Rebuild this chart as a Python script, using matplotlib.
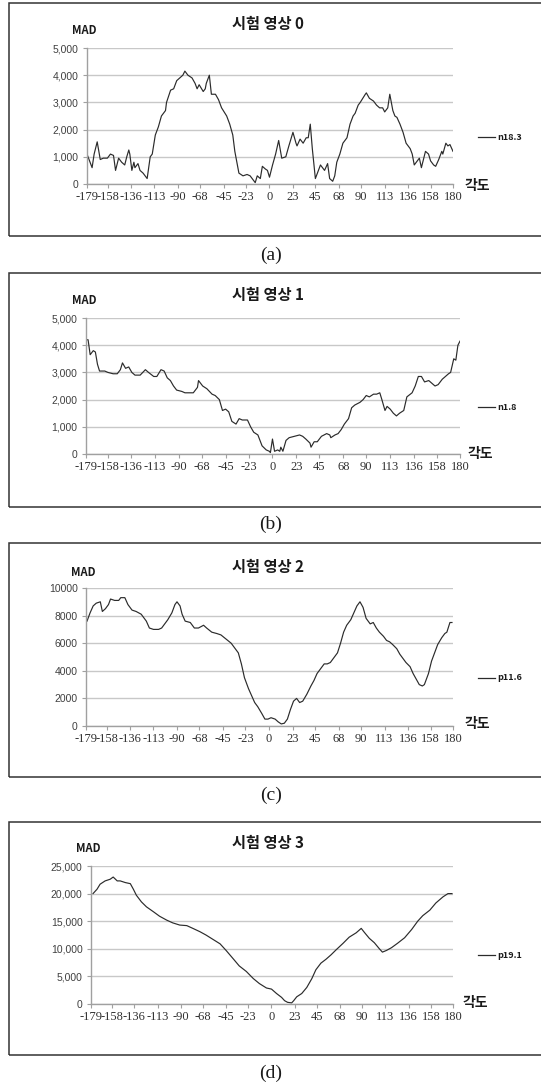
import matplotlib
matplotlib.use("Agg")
import matplotlib.pyplot as plt
from matplotlib.patches import Rectangle
from matplotlib.lines import Line2D

# ---- data -----------------------------------------------------------------
tick_angles = [-179, -158, -136, -113, -90, -68, -45, -23, 0, 23, 45, 68, 90,
               113, 136, 158, 180]

titles = ["시험 영상 0", "시험 영상 1", "시험 영상 2", "시험 영상 3"]
series_names = ["n18.3", "n1.8", "p11.6", "p19.1"]
captions = ["(a)", "(b)", "(c)", "(d)"]

angle_0 = [-179, -174, -172, -169, -166, -163, -159, -156, -153, -151, -148, -145,
           -142, -140, -138, -137, -135, -133, -132, -129, -127, -124, -122, -120,
           -117, -115, -112, -109, -106, -102, -101, -97, -94, -91, -88, -85, -83,
           -80, -76, -73, -71, -69, -65, -63, -62, -59, -57, -53, -50, -47, -42,
           -39, -36, -34, -32, -30, -26, -22, -19, -17, -14, -12, -9, -7, -4, -2,
           0, 3, 6, 9, 12, 16, 19, 23, 26, 27, 30, 33, 36, 38, 40, 42, 45, 46, 50,
           52, 54, 57, 59, 62, 64, 66, 69, 72, 76, 79, 82, 84, 87, 89, 94, 95, 98,
           102, 105, 108, 111, 113, 116, 118, 121, 123, 125, 128, 131, 134, 138,
           140, 142, 144, 147, 149, 151, 153, 156, 158, 161, 163, 166, 169, 170,
           173, 175, 177, 180]
mad_0 = [1100, 600, 1100, 1550, 900, 950, 950, 1100, 1050, 500, 950, 800,
         700, 1000, 1250, 1100, 500, 800, 600, 750, 500, 400, 300, 200,
         1000, 1100, 1800, 2100, 2500, 2700, 3000, 3450, 3500, 3800, 3900, 4000, 4150,
         4000, 3900, 3700, 3500, 3650, 3400, 3500, 3700, 4000, 3300, 3300, 3100, 2800, 2500,
         2200, 1800, 1200, 800, 400, 300, 350, 300, 200, 50, 300, 200, 650, 550, 500,
         250, 700, 1100, 1600, 950, 1000, 1400, 1900, 1500, 1400, 1650, 1500, 1700, 1700, 2200, 1300, 200, 300, 700,
         600, 500, 750, 200, 100, 300, 800, 1100, 1500, 1700, 2200, 2500, 2600, 2900, 3000, 3300, 3350, 3150,
         3050, 2900, 2800, 2800, 2650, 2800, 3300, 2700, 2500, 2450, 2200, 1900, 1500, 1300,
         1100, 700, 800, 950, 600, 900, 1200, 1100, 850, 700, 650, 900, 1200, 1100,
         1500, 1400, 1450, 1200]

angle_1 = [-179, -177, -175, -172, -170, -168, -166, -161, -158, -153, -149, -146,
           -144, -141, -138, -135, -132, -127, -122, -119, -114, -111, -107, -104,
           -101, -98, -95, -92, -87, -84, -80, -76, -72, -71, -67, -63, -58, -55,
           -51, -48, -45, -42, -39, -35, -32, -29, -24, -21, -18, -14, -12, -10,
           -6, -3, -2, 0, 2, 5, 7, 8, 10, 13, 16, 21, 26, 29, 32, 36, 37, 40, 43,
           47, 52, 55, 56, 60, 63, 66, 69, 73, 76, 79, 84, 87, 90, 93, 97, 100,
           103, 105, 108, 110, 113, 116, 119, 122, 126, 129, 134, 137, 140, 143,
           146, 150, 153, 156, 159, 163, 166, 169, 171, 174, 176, 178, 180]
mad_1 = [4200, 4200, 3650, 3800, 3750, 3300, 3050, 3050, 3000, 2950, 2950, 3100,
         3350, 3150, 3200, 3000, 2900, 2900, 3100, 3000, 2850, 2850, 3100, 3050,
         2800, 2700, 2500, 2350, 2300, 2250, 2250, 2250, 2450, 2700, 2500, 2400, 2200, 2150,
         2000, 1600, 1650, 1550, 1200, 1100, 1300, 1250, 1250, 1000, 800, 700, 500, 300,
         150, 100, 50, 550, 100, 150, 100, 250, 100, 500, 600, 650, 700, 650, 550, 400, 250, 450, 450,
         650, 750, 700, 600, 700, 750, 900, 1100, 1300, 1700, 1800, 1900, 2000, 2150, 2100, 2200, 2200,
         2250, 2000, 1600, 1750, 1650, 1500, 1400, 1500, 1600, 2100, 2250, 2500, 2850, 2850,
         2650, 2700, 2600, 2500, 2550, 2750, 2850, 2950, 3000, 3500, 3450, 4000, 4150]

angle_2 = [-178, -175, -172, -169, -165, -163, -160, -157, -155, -151, -147, -145,
           -141, -138, -134, -130, -125, -120, -117, -113, -108, -105, -102, -99,
           -95, -92, -90, -87, -85, -82, -77, -73, -69, -64, -61, -56, -51, -47,
           -42, -37, -33, -30, -27, -24, -20, -17, -14, -11, -7, -4, -1, 2, 6, 9,
           12, 15, 18, 21, 24, 27, 30, 33, 37, 41, 44, 47, 50, 54, 57, 60, 63, 67,
           70, 73, 76, 80, 83, 86, 89, 92, 95, 99, 102, 105, 108, 112, 115, 118,
           121, 125, 128, 131, 134, 138, 141, 144, 147, 150, 152, 156, 159, 162,
           165, 169, 172, 174, 177, 179]
mad_2 = [7600, 8200, 8700, 8900, 9000, 8300, 8500, 8800, 9200, 9100, 9100, 9300,
         9300, 8800, 8400, 8300, 8100, 7600, 7100, 7000, 7000, 7100, 7400, 7700,
         8200, 8800, 9000, 8700, 8100, 7600, 7500, 7100, 7100, 7300, 7100, 6800, 6700, 6600,
         6300, 6000, 5600, 5300, 4500, 3500, 2700, 2200, 1700, 1400, 900, 500, 500, 600, 500, 300,
         150, 200, 500, 1200, 1800, 2000, 1700, 1800, 2300, 2900, 3300, 3800, 4100, 4500, 4500, 4600, 4900, 5300,
         6000, 6800, 7300, 7700, 8200, 8700, 9000, 8600, 7800, 7400, 7500, 7100, 6800, 6500, 6200, 6100,
         5900, 5600, 5200, 4900, 4600, 4300, 3800, 3400, 3000, 2900, 3000, 3800, 4700, 5300,
         5900, 6400, 6700, 6800, 7500, 7500]

angle_3 = [-177, -173, -170, -165, -160, -157, -153, -150, -145, -140, -137, -134,
           -129, -124, -117, -111, -104, -98, -91, -84, -78, -71, -65, -58, -51,
           -45, -38, -32, -25, -18, -12, -5, 0, 5, 10, 13, 16, 20, 22, 25, 30, 35,
           40, 44, 49, 54, 59, 64, 71, 77, 84, 89, 92, 97, 102, 107, 110, 114, 119,
           125, 132, 139, 145, 150, 157, 163, 170, 175, 179]
mad_3 = [20000, 20800, 21700, 22300, 22600, 23000, 22300, 22300, 22000, 21800, 20800, 19700,
         18500, 17600, 16700, 15900, 15200, 14700, 14300, 14200, 13700, 13100, 12500, 11700, 10900,
         9700, 8200, 6900, 5900, 4600, 3700, 2900, 2700, 1900, 1200, 600, 300, 200, 600, 1300, 1900, 3000,
         4600, 6200, 7400, 8100, 8900, 9800, 11000, 12100, 12900, 13700, 13000, 11900, 11100, 10000, 9400, 9700, 10200,
         11000, 12000, 13500, 15000, 16000, 17000, 18300, 19400, 20000, 20000]

angles = [angle_0, angle_1, angle_2, angle_3]
mads = [mad_0, mad_1, mad_2, mad_3]
y_ticks = [[0, 1000, 2000, 3000, 4000, 5000],
           [0, 1000, 2000, 3000, 4000, 5000],
           [0, 2000, 4000, 6000, 8000, 10000],
           [0, 5000, 10000, 15000, 20000, 25000]]
y_comma = [True, True, False, True]

# ---- layout (pixel geometry) ------------------------------------------------
W, H = 541, 1086
fig = plt.figure(figsize=(W / 100, H / 100), dpi=100)
fig.patch.set_facecolor("white")

def fx(x):
    return x / W

def fy(y):
    return 1 - y / H

KR = ["Noto Sans CJK KR", "DejaVu Sans"]
SERIF = ["Liberation Serif", "DejaVu Serif"]
NARROW = ["Liberation Sans Narrow", "Liberation Sans", "DejaVu Sans"]

panels = [
    dict(box=(3, 236), ax=(87, 453, 48, 184), title=24, mad=(84, 31), deg=(477, 186), leg=137, cap=255),
    dict(box=(273, 507), ax=(86, 460, 318, 454), title=295, mad=(84, 301), deg=(480, 454), leg=407, cap=524),
    dict(box=(543, 777), ax=(86, 453, 588, 726), title=567, mad=(83, 572), deg=(477, 724), leg=678, cap=795),
    dict(box=(822, 1055), ax=(91, 453, 866, 1004), title=843, mad=(88, 848), deg=(475, 1003), leg=955, cap=1073),
]

for i, p in enumerate(panels):
    # chart frame
    btop, bbot = p["box"]
    fig.add_artist(Rectangle((fx(9), fy(bbot)), fx(560) - fx(9), fy(btop) - fy(bbot),
                             transform=fig.transFigure, fill=False,
                             edgecolor="#333333", linewidth=1.1))

    l, r, t, b = p["ax"]
    ax = fig.add_axes([fx(l), fy(b), fx(r) - fx(l), fy(t) - fy(b)])
    ax.plot(angles[i], mads[i], color="#2b2b2b", linewidth=0.85)
    ax.set_xlim(-179, 180)
    ax.set_ylim(0, y_ticks[i][-1])

    ax.set_yticks(y_ticks[i])
    if y_comma[i]:
        ax.set_yticklabels([f"{v:,}" for v in y_ticks[i]])
    else:
        ax.set_yticklabels([str(v) for v in y_ticks[i]])
    ax.set_xticks(tick_angles)
    ax.set_xticklabels([str(v) for v in tick_angles])

    ax.grid(axis="y", color="#c8c8c8", linewidth=1.0)
    ax.set_axisbelow(True)
    for s in ("top", "right"):
        ax.spines[s].set_visible(False)
    for s in ("left", "bottom"):
        ax.spines[s].set_color("#a0a0a0")
        ax.spines[s].set_linewidth(1.0)
    ax.tick_params(axis="y", length=3, color="#a0a0a0", pad=3,
                   labelsize=7.5, labelcolor="#404040")
    ax.tick_params(axis="x", length=3, color="#a0a0a0", pad=2,
                   labelsize=9, labelcolor="#303030")
    for lab in ax.get_yticklabels():
        lab.set_family(NARROW)
    for lab in ax.get_xticklabels():
        lab.set_family(SERIF)

    # texts
    fig.text(fx(268), fy(p["title"]), titles[i], ha="center", va="center",
             fontsize=11, fontweight="bold", family=KR, color="#1a1a1a")
    fig.text(fx(p["mad"][0]), fy(p["mad"][1]), "MAD", ha="center", va="center",
             fontsize=8, fontweight="bold", family=KR, color="#1a1a1a")
    fig.text(fx(p["deg"][0]), fy(p["deg"][1]), "각도", ha="center", va="center",
             fontsize=10, fontweight="bold", family=KR, color="#1a1a1a")

    # legend entry
    ly = fy(p["leg"])
    fig.add_artist(Line2D([fx(478), fx(495)], [ly, ly], transform=fig.transFigure,
                          color="#2b2b2b", linewidth=0.9))
    fig.text(fx(497), ly, series_names[i], ha="left", va="center",
             fontsize=6.5, fontweight="bold", family=KR, color="#1a1a1a")

    # caption
    fig.text(fx(271), fy(p["cap"]), captions[i], ha="center", va="center",
             fontsize=14, family=SERIF, color="#1a1a1a")

fig.savefig("out.png", dpi=100, facecolor="white")
